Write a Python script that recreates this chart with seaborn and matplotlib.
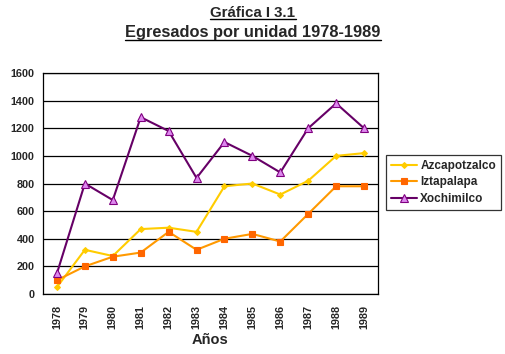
import matplotlib
matplotlib.use("Agg")
import matplotlib.pyplot as plt
import seaborn as sns
import pandas as pd
from matplotlib.lines import Line2D

years = ["1978", "1979", "1980", "1981", "1982", "1983", "1984", "1985", "1986", "1987", "1988", "1989"]
azcapotzalco = [50, 320, 275, 470, 480, 450, 780, 800, 720, 820, 1000, 1020]
iztapalapa = [100, 200, 270, 300, 450, 320, 400, 435, 380, 580, 780, 780]
xochimilco = [150, 800, 680, 1280, 1180, 840, 1100, 1000, 880, 1200, 1380, 1200]
series_names = ["Azcapotzalco", "Iztapalapa", "Xochimilco"]
yticks = [0, 200, 400, 600, 800, 1000, 1200, 1400, 1600]

sns.set_theme(style="white")
plt.rcParams['font.family'] = ['Liberation Sans', 'DejaVu Sans']

rows = []
for name, vals in zip(series_names, [azcapotzalco, iztapalapa, xochimilco]):
    for i, v in enumerate(vals):
        rows.append({"pos": i, "year": years[i], "value": v, "serie": name})
df = pd.DataFrame(rows)

fig = plt.figure(figsize=(5.06, 3.54), dpi=100)
ax = fig.add_axes([43/506, 60/354, 335/506, 221/354])

styles = {
    "Azcapotzalco": dict(color="#FFCC00", marker="D", mfc="#FFCC00", mec="#FFCC00", ms=3),
    "Iztapalapa": dict(color="#FF9900", marker="s", mfc="#FF6600", mec="#FF6600", ms=5),
    "Xochimilco": dict(color="#660066", marker="^", mfc="#DD88EE", mec="#800080", ms=5.5),
}
for name in series_names:
    st = styles[name]
    sub = df[df.serie == name]
    sns.lineplot(data=sub, x="pos", y="value", ax=ax, color=st["color"], lw=1.5,
                 marker=st["marker"], markerfacecolor=st["mfc"], markeredgecolor=st["mec"],
                 markersize=st["ms"], markeredgewidth=0.8, label=name)

ax.set_xlim(-0.5, len(years) - 0.5)
ax.set_ylim(0, 1600)
ax.set_yticks(yticks)
ax.set_yticklabels([str(t) for t in yticks], fontsize=7.8, fontweight="bold")
ax.set_xticks(range(len(years)))
ax.set_xticklabels(years, rotation=90, fontsize=7.8, fontweight="bold")
ax.set_xticks([i - 0.5 for i in range(len(years) + 1)], minor=True)
ax.tick_params(axis="x", which="major", length=0, pad=8)
ax.tick_params(axis="x", which="minor", length=3, width=0.8, color="black", direction="out")
ax.tick_params(axis="y", which="major", length=3, width=0.8, color="black", direction="out", pad=3)
ax.yaxis.grid(True, color="black", lw=0.9)
ax.xaxis.grid(False)
for s in ax.spines.values():
    s.set_color("black")
    s.set_linewidth(0.9)
ax.set_xlabel("Años", fontsize=10.5, fontweight="bold", labelpad=3)
ax.set_ylabel("")

leg = ax.legend(loc="upper left", bbox_to_anchor=(386/335 - 43/335, (354-155-60)/221 + 0.0),
                frameon=True, fancybox=False, edgecolor="black",
                prop={"weight": "bold", "size": 8.5}, handlelength=2.2, handletextpad=0.3,
                borderpad=0.4, labelspacing=0.4, borderaxespad=0)
leg.get_frame().set_linewidth(0.9)

t1 = fig.text(0.5, 1 - 13/354, "Gráfica I 3.1", ha="center", va="center", fontsize=10.8, fontweight="bold")
t2 = fig.text(0.5, 1 - 33/354, "Egresados por unidad 1978-1989", ha="center", va="center", fontsize=11.8, fontweight="bold")

fig.canvas.draw()
r = fig.canvas.get_renderer()
inv = fig.transFigure.inverted()
for t in (t1, t2):
    bb = t.get_window_extent(r)
    (x0, y0), (x1, y1) = inv.transform([(bb.x0, bb.y0), (bb.x1, bb.y1)])
    yl = y0 + 0.002
    fig.add_artist(Line2D([x0, x1], [yl, yl], color="black", lw=1.0, transform=fig.transFigure))

fig.savefig("out.png", dpi=100)
